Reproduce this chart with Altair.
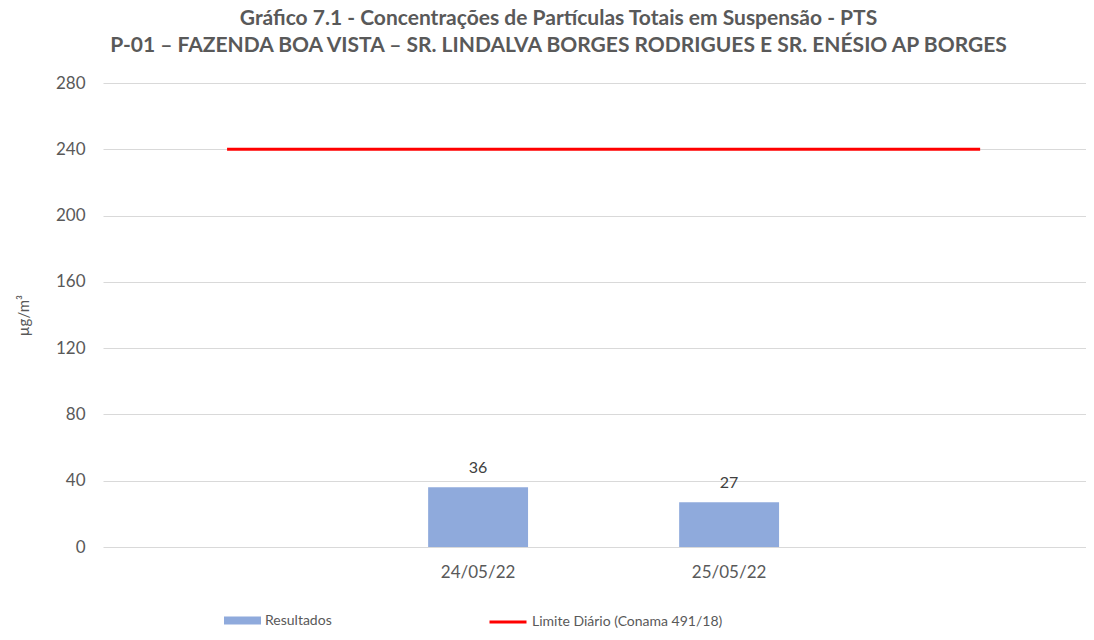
import altair as alt
import pandas as pd

categories = ["", "24/05/22", "25/05/22", " "]
bar_dates = ["24/05/22", "25/05/22"]
bar_values = [36, 27]
limit_values = [240, 240, 240, 240]
y_ticks = [0, 40, 80, 120, 160, 200, 240, 280]

bar_name = "Resultados"
line_name = "Limite Diário (Conama 491/18)"

title_lines = [
    "Gráfico 7.1  - Concentrações de Partículas Totais em Suspensão - PTS",
    "P-01 – FAZENDA BOA VISTA – SR. LINDALVA BORGES RODRIGUES E SR. ENÉSIO AP BORGES",
]

bar_df = pd.DataFrame({"data": bar_dates, "valor": bar_values, "serie": bar_name})
line_df = pd.DataFrame({"data": categories, "valor": limit_values, "serie": line_name})

FONT = "Lato"
GRAY = "#595959"

x_enc = alt.X(
    "data:N",
    sort=categories,
    scale=alt.Scale(domain=categories, paddingInner=0.602, paddingOuter=0.259, align=0.57),
    axis=alt.Axis(title=None, labelAngle=0, domain=False, ticks=False,
                  labelFontSize=17, labelColor=GRAY, labelFont=FONT, labelPadding=17),
)
y_enc = alt.Y(
    "valor:Q",
    scale=alt.Scale(domain=[0, 280]),
    axis=alt.Axis(values=y_ticks, title="µg/m³", titleFontSize=15, titleColor=GRAY,
                  titleFontWeight="normal", titleFont=FONT, titlePadding=24,
                  labelFontSize=17, labelColor=GRAY, labelFont=FONT,
                  gridColor="#d9d9d9", gridWidth=1, domain=False, ticks=False, labelPadding=18),
)

bars = alt.Chart(bar_df).mark_bar(color="#8faadc").encode(
    x=x_enc,
    y=y_enc,
    fill=alt.Fill("serie:N", scale=alt.Scale(domain=[bar_name], range=["#8faadc"]),
                  legend=alt.Legend(orient="none", legendX=121, legendY=519, title=None,
                                    symbolType="M-1,-0.22L1,-0.22L1,0.22L-1,0.22Z",
                                    symbolSize=1369, symbolStrokeWidth=0, labelLimit=400,
                                    labelFontSize=14, labelColor=GRAY, labelFont=FONT)),
)

labels = alt.Chart(bar_df).mark_text(baseline="bottom", dy=-11, fontSize=16, font=FONT, color="#404040").encode(
    x=alt.X("data:N", sort=categories),
    y="valor:Q",
    text="valor:Q",
)

line = alt.Chart(line_df).mark_line(strokeWidth=3).encode(
    x=alt.X("data:N", sort=categories),
    y="valor:Q",
    stroke=alt.Stroke("serie:N", scale=alt.Scale(domain=[line_name], range=["#ff0000"]),
                      legend=alt.Legend(orient="none", legendX=385, legendY=519, title=None,
                                        symbolType="stroke", symbolSize=1369, symbolStrokeWidth=3,
                                        labelLimit=400,
                                        labelFontSize=14, labelColor=GRAY, labelFont=FONT)),
)

chart = alt.layer(bars, labels, line).properties(
    width=983,
    height=464,
    padding={"left": 8, "top": 0, "right": 0, "bottom": 0},
    title=alt.Title(text=title_lines, fontSize=21, fontWeight="bold", color=GRAY, font=FONT,
                    anchor="middle", frame="group", dx=-36, lineHeight=27, offset=18),
).configure_view(stroke=None)

chart.save("out.html", embed_options={"renderer": "svg", "actions": False})
